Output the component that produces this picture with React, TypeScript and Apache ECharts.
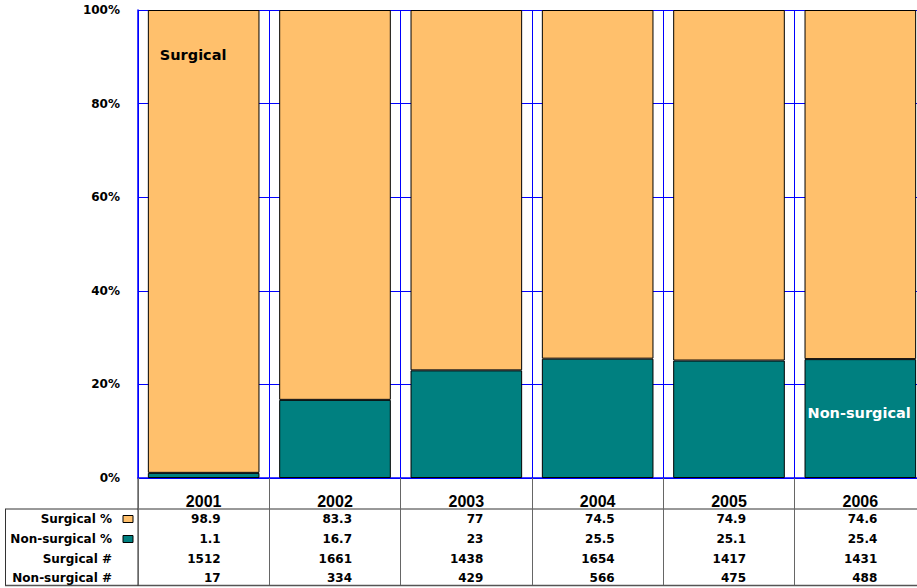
import React, { useEffect, useRef } from "react";
import * as echarts from "echarts";

const years = ["2001", "2002", "2003", "2004", "2005", "2006"];
const surgicalPct = [98.9, 83.3, 77, 74.5, 74.9, 74.6];
const nonSurgicalPct = [1.1, 16.7, 23, 25.5, 25.1, 25.4];
const surgicalN = [1512, 1661, 1438, 1654, 1417, 1431];
const nonSurgicalN = [17, 334, 429, 566, 475, 488];
const rowLabels = ["Surgical %", "Non-surgical %", "Surgical #", "Non-surgical #"];
const rowValues = [surgicalPct, nonSurgicalPct, surgicalN, nonSurgicalN];

const ORANGE = "#FFC06C";
const TEAL = "#008080";
const BLUE = "#0000FF";
const FONT = "DejaVu Sans";

export default function App() {
  const ref = useRef<HTMLDivElement>(null);
  useEffect(() => {
    if (!ref.current) return;
    const chart = echarts.init(ref.current, null, { renderer: "svg" });
    const option: any = {
      animation: false,
      backgroundColor: "#fff",
      grid: { left: 138, top: 10, right: 0, bottom: 110 },
      xAxis: {
        type: "category",
        data: years,
        axisLine: { show: true, lineStyle: { color: BLUE, width: 1.5 } },
        axisTick: { show: true, length: 107, interval: 0, lineStyle: { color: "#666", width: 1 } },
        splitLine: { show: true, interval: 0, lineStyle: { color: BLUE, width: 1 } },
        axisLabel: {
          interval: 0,
          margin: 15,
          color: "#000",
          fontFamily: "Liberation Sans",
          fontWeight: "bold",
          fontSize: 16,
        },
      },
      yAxis: {
        type: "value",
        min: 0,
        max: 100,
        interval: 20,
        axisLine: { show: true, lineStyle: { color: BLUE, width: 1.5 } },
        axisTick: { show: false },
        splitLine: { show: true, lineStyle: { color: BLUE, width: 1 } },
        axisLabel: {
          formatter: "{value}%",
          margin: 18,
          color: "#000",
          fontFamily: FONT,
          fontWeight: "bold",
          fontSize: 12,
        },
      },
      series: [
        {
          name: "Non-surgical",
          type: "bar",
          stack: "total",
          barCategoryGap: "15%",
          itemStyle: { color: TEAL, borderColor: "#000", borderWidth: 1 },
          data: nonSurgicalPct.map((v, i) =>
            i === years.length - 1
              ? {
                  value: v,
                  label: {
                    show: true,
                    formatter: "Non-surgical",
                    position: [3, 46],
                    color: "#fff",
                    fontFamily: FONT,
                    fontWeight: "bold",
                    fontSize: 14.5,
                  },
                }
              : v
          ),
        },
        {
          name: "Surgical",
          type: "bar",
          stack: "total",
          barCategoryGap: "15%",
          itemStyle: { color: ORANGE, borderColor: "#000", borderWidth: 1 },
          data: surgicalPct.map((v, i) =>
            i === 0
              ? {
                  value: v,
                  label: {
                    show: true,
                    formatter: "Surgical",
                    position: [12, 37],
                    color: "#000",
                    fontFamily: FONT,
                    fontWeight: "bold",
                    fontSize: 14.5,
                  },
                }
              : v
          ),
        },
      ],
    };
    chart.setOption(option);

    const xs = years.map((y) => chart.convertToPixel({ xAxisIndex: 0 }, y) as number);
    const axisY = chart.convertToPixel({ yAxisIndex: 0 }, 0) as number;
    const half = xs.length > 1 ? (xs[1] - xs[0]) / 2 : 65;
    const tableLeftX = xs[0] - half;
    const headerY = 509;
    const bottomY = 585.5;
    const rowYs = [519, 539, 558.5, 577.5];

    const graphic: any[] = [];
    graphic.push({
      type: "line",
      shape: { x1: 5, y1: headerY, x2: 930, y2: headerY },
      style: { stroke: "#333", lineWidth: 1 },
    });
    graphic.push({
      type: "line",
      shape: { x1: 5, y1: bottomY, x2: 930, y2: bottomY },
      style: { stroke: "#555", lineWidth: 1.5 },
    });
    graphic.push({
      type: "line",
      shape: { x1: 5.5, y1: headerY, x2: 5.5, y2: bottomY },
      style: { stroke: "#333", lineWidth: 1 },
    });
    graphic.push({
      type: "line",
      shape: { x1: tableLeftX, y1: axisY, x2: tableLeftX, y2: bottomY },
      style: { stroke: "#222", lineWidth: 1 },
    });
    rowLabels.forEach((lab, r) => {
      graphic.push({
        type: "text",
        style: {
          text: lab,
          x: 112,
          y: rowYs[r],
          align: "right",
          verticalAlign: "middle",
          fill: "#000",
          font: `bold 12px "${FONT}"`,
        },
      });
      rowValues[r].forEach((v, i) => {
        graphic.push({
          type: "text",
          style: {
            text: String(v),
            x: xs[i] + 17,
            y: rowYs[r],
            align: "right",
            verticalAlign: "middle",
            fill: "#000",
            font: `bold 12px "${FONT}"`,
          },
        });
      });
    });
    [ORANGE, TEAL].forEach((c, r) => {
      graphic.push({
        type: "rect",
        shape: { x: 123, y: rowYs[r] - 3.5, width: 10, height: 7 },
        style: { fill: c, stroke: "#000", lineWidth: 1 },
      });
    });
    chart.setOption({ graphic });

    return () => chart.dispose();
  }, []);
  return (
    <div
      style={{
        position: "absolute",
        left: 0,
        top: 0,
        width: 917,
        height: 588,
        overflow: "hidden",
        background: "#fff",
      }}
    >
      <div ref={ref} style={{ width: 926, height: 588 }} />
    </div>
  );
}
